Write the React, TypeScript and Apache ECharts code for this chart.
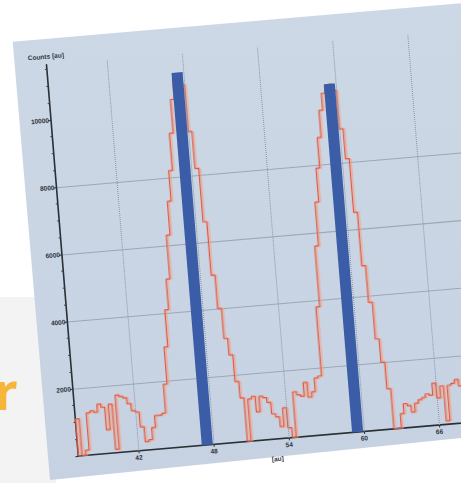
import React, { useEffect, useRef } from "react";
import * as echarts from "echarts";

// ---- data ----
const binStart = 37.2;
const binWidth = 0.3;
const counts = [
  1100, 0, 150, 1250, 1300, 1250, 1480, 1380, 700, 1450,
  100, 1700, 1650, 1600, 1420, 1200, 1150, 700, 250, 300,
  650, 1000, 1000, 1050, 1900, 3000, 4100, 5000, 6300, 7300,
  8200, 9300, 10300, 10900, 11000, 10700, 9300, 8200, 6600, 5000,
  4000, 3100, 2600, 1800, 1300, 0, 1250, 1320, 850, 1300,
  1250, 1100, 750, 650, 350, 900, 300, 0, 1350, 1250,
  1200, 1600, 1150, 1300, 1700, 1750, 3800, 5600, 6900, 7900,
  8800, 9600, 10100, 10300, 10350, 10150, 9000, 8100, 6500, 4900,
  3800, 2700, 2000, 1200, 0, 0, 430, 720, 650, 450,
  700, 800, 850, 950, 900, 1250, 800, 1150, 100, 1150,
  1200, 1300, 1100,
];
const peakPositions = [47.5, 59.5];
const peakHeights = [11080, 10360];
const xTickValues = [42, 48, 54, 60, 66];
const yTickValues = [0, 2000, 4000, 6000, 8000, 10000];
const xMin = 37.2;
const xMax = 72;
const yMax = 11640;
const yAxisName = "Counts [au]";
const xAxisName = "[au]";

// affine placement of the tilted sheet (chart frame -> page)
const SHEET_MATRIX = "matrix(1.00194, -0.08611, 0.08149, 1.00299, -17.67, 19.87)";

export default function App() {
  const bgRef = useRef<HTMLDivElement>(null);
  const chartRef = useRef<HTMLDivElement>(null);

  useEffect(() => {
    const bg = echarts.init(bgRef.current!, undefined, { renderer: "svg" });
    bg.setOption({
      animation: false,
      backgroundColor: "#ffffff",
      graphic: [
        {
          type: "rect",
          shape: { x: 0, y: 297, width: 56, height: 190 },
          style: { fill: "#f3f3f3" },
        },
        {
          type: "text",
          x: -5,
          y: 366,
          style: {
            text: "r",
            font: 'bold 50px "Noto Sans"',
            fill: "#f6b63a",
            textBaseline: "alphabetic",
          },
        },
        {
          type: "polygon",
          shape: {
            points: [
              [12.7, 41.7],
              [470, 2.6],
              [470, 437.1],
              [50, 480],
            ],
          },
          style: {
            fill: new echarts.graphic.LinearGradient(0, 0, 0, 1, [
              { offset: 0, color: "#cdd8e6" },
              { offset: 1, color: "#c6d2e2" },
            ]),
          },
        },
      ],
    });

    const chart = echarts.init(chartRef.current!, undefined, { renderer: "svg" });
    const stepData: number[][] = [[binStart, 0]];
    counts.forEach((c, i) => stepData.push([+(binStart + i * binWidth).toFixed(2), c]));
    stepData.push([+(binStart + counts.length * binWidth).toFixed(2), counts[counts.length - 1]]);

    const labelStyle = {
      fontSize: 6.5,
      fontFamily: "Liberation Sans",
      fontWeight: "bold" as const,
      color: "#2e3440",
    };

    chart.setOption({
      animation: false,
      backgroundColor: "transparent",
      grid: { left: 60, right: 5, top: 50, bottom: 40, outerBoundsMode: "none" },
      xAxis: {
        type: "value",
        min: xMin,
        max: xMax,
        name: xAxisName,
        nameLocation: "middle",
        nameGap: 16,
        nameTextStyle: { ...labelStyle, padding: [0, 40, 0, 0] },
        axisLine: { show: true, lineStyle: { color: "#2b2f36", width: 1.5 } },
        axisTick: { show: true, length: 2.5, customValues: xTickValues, lineStyle: { color: "#2b2f36" } },
        axisLabel: { ...labelStyle, margin: 3, customValues: xTickValues, formatter: (v: number) => String(v) },
        splitLine: { show: false },
      },
      yAxis: {
        type: "value",
        min: 0,
        max: yMax,
        interval: 2000,
        name: yAxisName,
        nameLocation: "end",
        nameGap: 5,
        nameTextStyle: labelStyle,
        axisLine: { show: true, lineStyle: { color: "#2b2f36", width: 1.6 } },
        axisTick: { show: true, length: 3, customValues: yTickValues, lineStyle: { color: "#2b2f36" } },
        minorTick: { show: true, splitNumber: 4, length: 2, lineStyle: { color: "#3a404a" } },
        axisLabel: {
          ...labelStyle,
          margin: 2,
          customValues: yTickValues.slice(1),
          formatter: (v: number) => String(v),
        },
        splitLine: {
          show: true,
          showMinLine: false,
          showMaxLine: false,
          lineStyle: { color: "#9ca8b6", width: 1 },
        },
      },
      series: [
        {
          type: "line",
          step: "end",
          data: stepData,
          symbol: "none",
          z: 2,
          lineStyle: {
            color: "#e2553b",
            width: 1.2,
            shadowColor: "rgba(246,160,130,0.95)",
            shadowBlur: 0,
            shadowOffsetX: 1.6,
            shadowOffsetY: 0.4,
          },
          markLine: {
            silent: true,
            symbol: ["none", "none"],
            label: { show: false },
            lineStyle: { type: "dotted", color: "#8a95a3", width: 1 },
            data: xTickValues.map((v) => ({ xAxis: v })),
          },
        },
        {
          type: "bar",
          data: peakPositions.map((x, i) => [x, peakHeights[i]]),
          barWidth: 11,
          z: 3,
          itemStyle: { color: "#3b5ca6" },
        },
      ],
    });

    return () => {
      chart.dispose();
      bg.dispose();
    };
  }, []);

  return (
    <div
      style={{
        position: "fixed",
        left: 0,
        top: 0,
        width: 461,
        height: 483,
        overflow: "hidden",
        background: "#ffffff",
      }}
    >
      <div ref={bgRef} style={{ position: "absolute", left: 0, top: 0, width: 461, height: 483 }} />
      <div
        ref={chartRef}
        style={{
          position: "absolute",
          left: 0,
          top: 0,
          width: 500,
          height: 480,
          transformOrigin: "0 0",
          transform: SHEET_MATRIX,
        }}
      />
    </div>
  );
}
